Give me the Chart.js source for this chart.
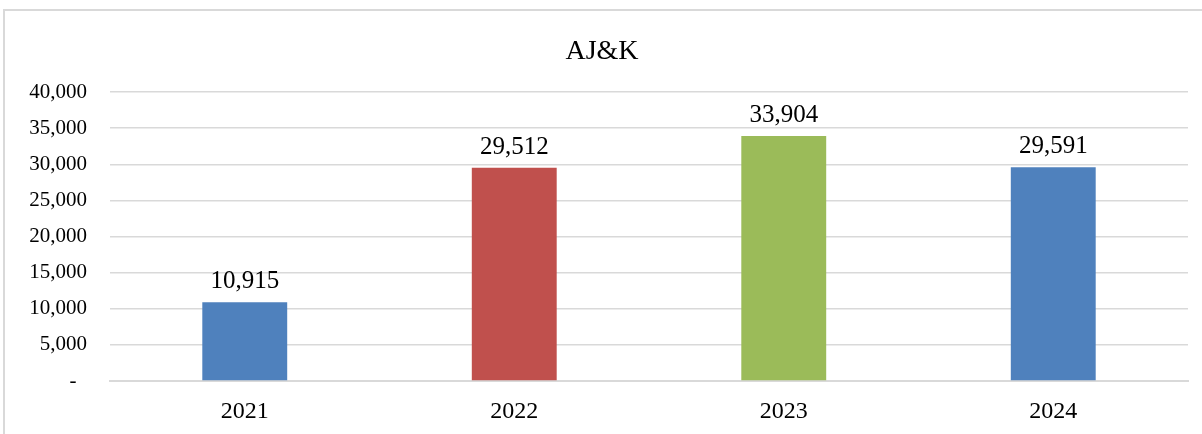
<!DOCTYPE html>
<html>
<head>
<meta charset="utf-8">
<script src="https://cdn.jsdelivr.net/npm/chart.js@4/dist/chart.umd.min.js"></script>
<style>
  html, body { margin: 0; padding: 0; background: #ffffff; overflow: hidden; }
  #wrap { position: relative; width: 1202px; height: 434px; }
  #frame { position: absolute; left: 3px; top: 9px; width: 1300px; height: 500px;
           border: 2px solid #d9d9d9; box-sizing: border-box; }
  #c { position: absolute; left: 0; top: 0; }
</style>
</head>
<body>
<div id="wrap">
  <div id="frame"></div>
  <canvas id="c" width="1202" height="434"></canvas>
</div>
<script>
const chartTitle = 'AJ&K';
const years = ['2021', '2022', '2023', '2024'];
const amounts = [10915, 29512, 33904, 29591];
const barColors = ['#4F81BD', '#C0504D', '#9BBB59', '#4F81BD'];
const yTicks = [0, 5000, 10000, 15000, 20000, 25000, 30000, 35000, 40000];

const SERIF = '"Liberation Serif", "Times New Roman", serif';
const fmt = v => v.toLocaleString('en-US');

const titlePlugin = {
  id: 'titleText',
  afterDraw(chart) {
    const ctx = chart.ctx;
    ctx.save();
    ctx.font = '28px ' + SERIF;
    ctx.fillStyle = '#000000';
    ctx.textAlign = 'center';
    ctx.textBaseline = 'alphabetic';
    ctx.fillText(chartTitle, 602, 59);
    ctx.restore();
  }
};

const valueLabels = {
  id: 'valueLabels',
  afterDatasetsDraw(chart) {
    const ctx = chart.ctx;
    const meta = chart.getDatasetMeta(0);
    ctx.save();
    ctx.font = '25px ' + SERIF;
    ctx.fillStyle = '#000000';
    ctx.textAlign = 'center';
    ctx.textBaseline = 'alphabetic';
    meta.data.forEach((bar, i) => {
      ctx.fillText(fmt(amounts[i]), bar.x, bar.y - 14);
    });
    ctx.restore();
  }
};

new Chart(document.getElementById('c'), {
  type: 'bar',
  data: {
    labels: years,
    datasets: [{
      data: amounts,
      backgroundColor: barColors,
      borderWidth: 0,
      barPercentage: 0.315,
      categoryPercentage: 1.0
    }]
  },
  options: {
    responsive: false,
    animation: false,
    layout: { padding: { top: 92, right: 14, bottom: 0, left: 0 } },
    plugins: {
      legend: { display: false },
      title: { display: false },
      tooltip: { enabled: false }
    },
    scales: {
      x: {
        grid: { display: false, drawTicks: false },
        border: { display: true, color: '#d9d9d9', width: 2 },
        ticks: { color: '#000000', font: { family: SERIF, size: 24 }, padding: 16 },
        afterFit(scale) { scale.height = 53; }
      },
      y: {
        min: 0,
        max: 40000,
        afterBuildTicks(scale) { scale.ticks = yTicks.map(v => ({ value: v })); },
        grid: { color: '#d9d9d9', lineWidth: 1.5, drawTicks: false },
        border: { display: false },
        ticks: {
          color: '#000000',
          font: { family: SERIF, size: 21 },
          padding: 23,
          callback: v => (v === 0 ? '-\u2007' : fmt(v))
        },
        afterFit(scale) { scale.width = 110; }
      }
    }
  },
  plugins: [titlePlugin, valueLabels]
});
</script>
</body>
</html>
